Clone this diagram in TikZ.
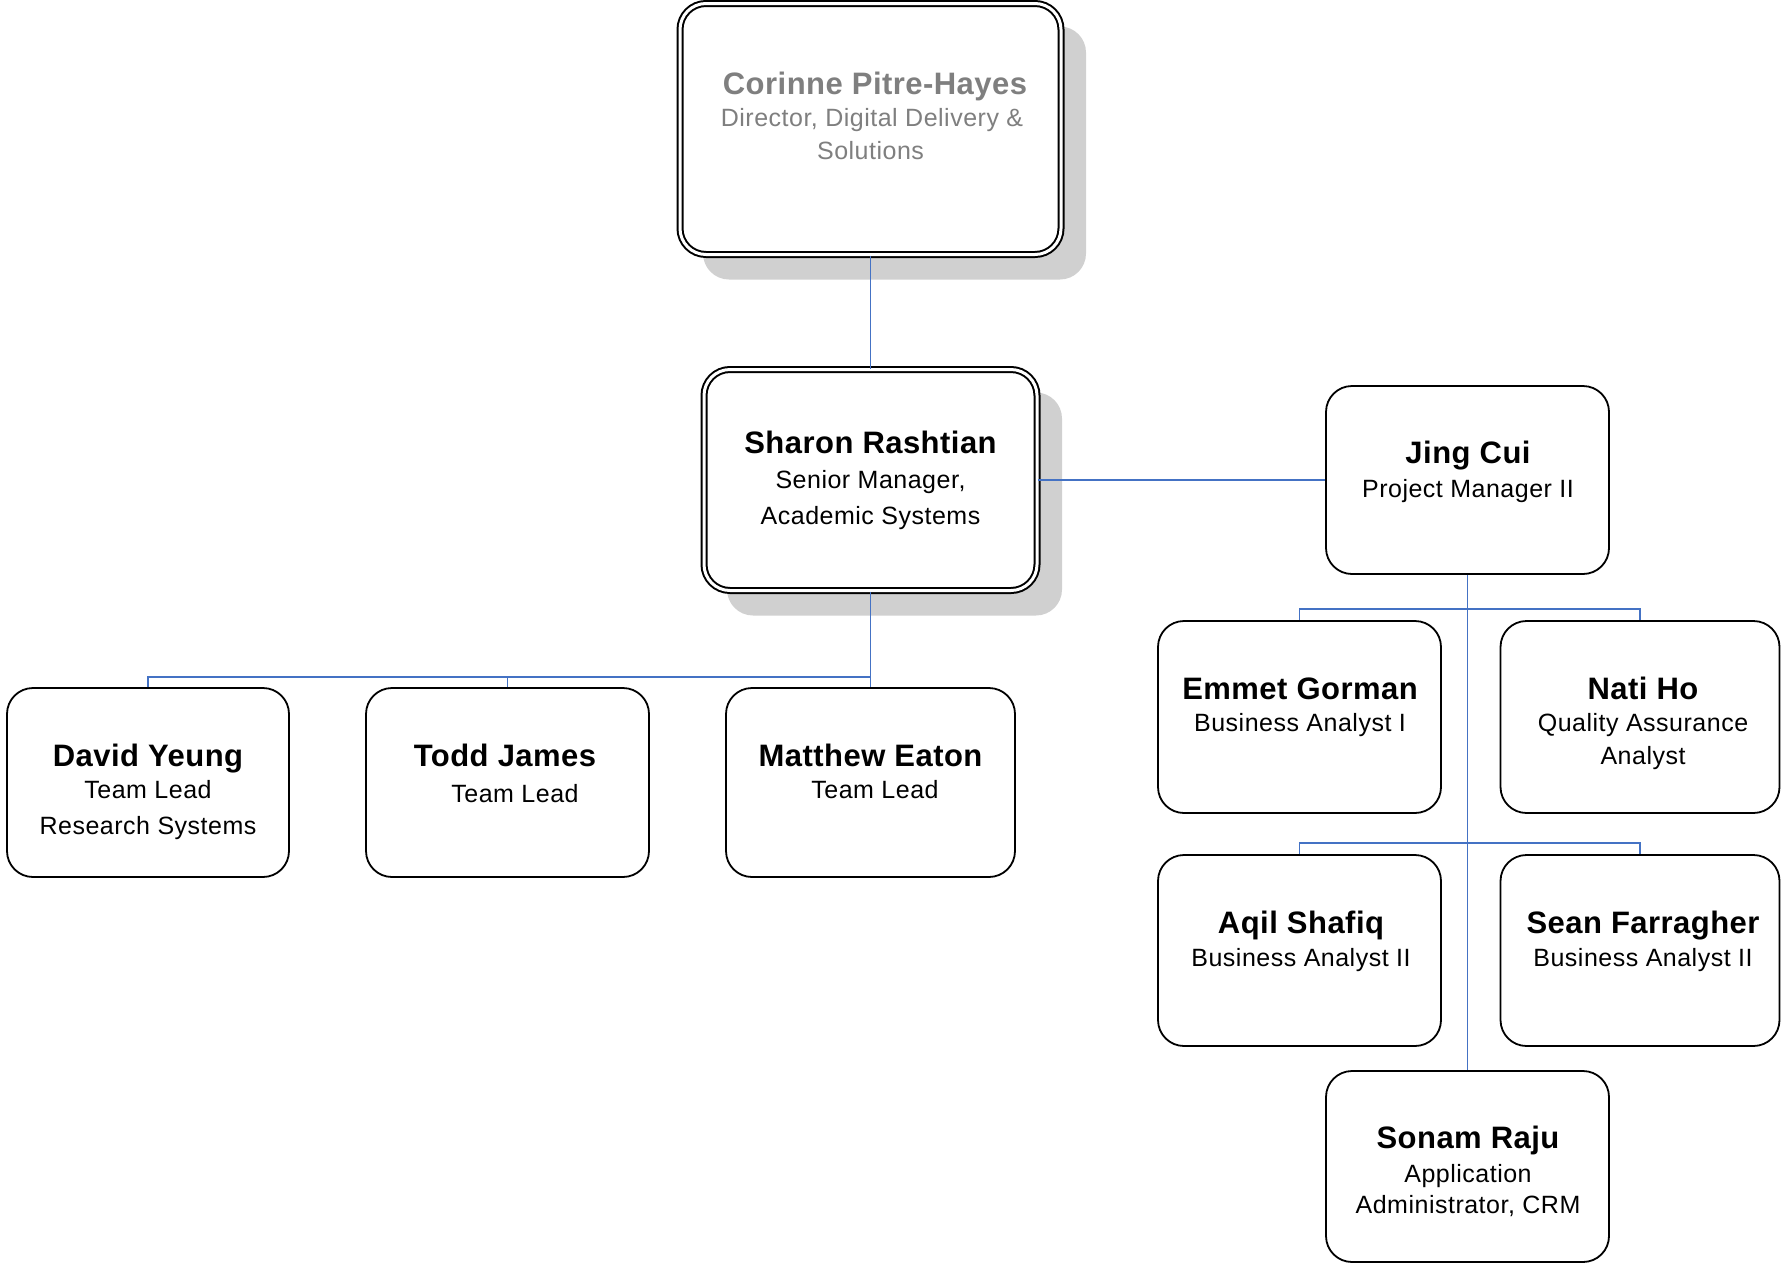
\documentclass[tikz,border=0pt]{standalone}
\usepackage{fontspec}
\setmainfont{Liberation Sans}
\usetikzlibrary{backgrounds}
\definecolor{shd}{HTML}{D0D0D0}
\definecolor{linkblue}{HTML}{4472C4}
\definecolor{greytxt}{HTML}{7F7F7F}
\tikzset{
  box/.style={draw=black, fill=white, line width=1.8pt, rounded corners=26pt, inner sep=0pt, minimum height=189pt},
  dbox/.style={box, line width=2pt, double=white, double distance=3pt},
  conn/.style={draw=linkblue, line width=1.8pt},
  nm/.style={font=\fontsize{31}{36}\selectfont\bfseries\addfontfeature{LetterSpace=1.5}, anchor=base, inner sep=0pt},
  sb/.style={font=\fontsize{25}{30}\selectfont\addfontfeature{LetterSpace=2}, anchor=base, inner sep=0pt},
  shadowfill/.style={fill=shd, rounded corners=26pt}
}
\begin{document}
\begin{tikzpicture}[x=1pt, y=-1pt]
\useasboundingbox (0,0) rectangle (1782,1264);

% boxes
\node[dbox, minimum width=381pt, minimum height=251pt] (corinne) at (870.5,129) {};
\node[dbox, minimum width=333pt, minimum height=221pt] (sharon) at (870.5,480) {};
\node[box, minimum width=283pt, minimum height=188pt] (jing) at (1467.5,480) {};
\node[box, minimum width=282pt] (david) at (148,782.5) {};
\node[box, minimum width=283pt] (todd) at (507.5,782.5) {};
\node[box, minimum width=289pt] (matthew) at (870.5,782.5) {};
\node[box, minimum width=283pt, minimum height=192pt] (emmet) at (1299.5,717) {};
\node[box, minimum width=279pt, minimum height=192pt] (nati) at (1640,717) {};
\node[box, minimum width=283pt, minimum height=191pt] (aqil) at (1299.5,950.5) {};
\node[box, minimum width=279pt, minimum height=191pt] (sean) at (1640,950.5) {};
\node[box, minimum width=283pt, minimum height=191pt] (sonam) at (1467.5,1166.5) {};

% shadows
\begin{scope}[on background layer]
\fill[shadowfill] ([shift={(24,24)}]corinne.north west) rectangle ([shift={(24,24)}]corinne.south east);
\fill[shadowfill] ([shift={(24,24)}]sharon.north west) rectangle ([shift={(24,24)}]sharon.south east);
\end{scope}

% texts
\node[nm, text=greytxt] (corinne-n) at (875,94) {Corinne Pitre-Hayes};
\node[sb, text=greytxt] (corinne-t1) at (872,126) {Director, Digital Delivery \&};
\node[sb, text=greytxt] (corinne-t2) at (870.5,159) {Solutions};

\node[nm] (sharon-n) at (870.5,453) {Sharon Rashtian};
\node[sb] (sharon-t1) at (870.5,488) {Senior Manager,};
\node[sb] (sharon-t2) at (870.5,524) {Academic Systems};

\node[nm] (jing-n) at (1468,463) {Jing Cui};
\node[sb] (jing-t1) at (1468,497) {Project Manager II};

\node[nm] (david-n) at (148,766) {David Yeung};
\node[sb] (david-t1) at (148,798) {Team Lead};
\node[sb] (david-t2) at (148,834) {Research Systems};

\node[nm] (todd-n) at (505,766) {Todd James};
\node[sb] (todd-t1) at (515,802) {Team Lead};

\node[nm] (matthew-n) at (870.5,766) {Matthew Eaton};
\node[sb] (matthew-t1) at (875,798) {Team Lead};

\node[nm] (emmet-n) at (1300,699) {Emmet Gorman};
\node[sb] (emmet-t1) at (1300,731) {Business Analyst I};

\node[nm] (nati-n) at (1643,699) {Nati Ho};
\node[sb] (nati-t1) at (1643,731) {Quality Assurance};
\node[sb] (nati-t2) at (1643,764) {Analyst};

\node[nm] (aqil-n) at (1301,933) {Aqil Shafiq};
\node[sb] (aqil-t1) at (1301,966) {Business Analyst II};

\node[nm] (sean-n) at (1643,933) {Sean Farragher};
\node[sb] (sean-t1) at (1643,966) {Business Analyst II};

\node[nm] (sonam-n) at (1468,1148) {Sonam Raju};
\node[sb] (sonam-t1) at (1468,1182) {Application};
\node[sb] (sonam-t2) at (1468,1213) {Administrator, CRM};

% connectors
\coordinate (bus1) at (870.5,677);
\coordinate (bus2) at (1467.5,609);
\coordinate (bus3) at (1467.5,843);
\draw[conn] (corinne.south) -- (sharon.north);
\draw[conn] (sharon.east) -- (jing.west);
\draw[conn] (sharon.south) -- (matthew.north);
\draw[conn] (david.north) |- (bus1);
\draw[conn] (todd.north) |- (bus1);
\draw[conn] (jing.south) -- (sonam.north);
\draw[conn] (emmet.north) |- (bus2) -| (nati.north);
\draw[conn] (aqil.north) |- (bus3) -| (sean.north);
\end{tikzpicture}
\end{document}
